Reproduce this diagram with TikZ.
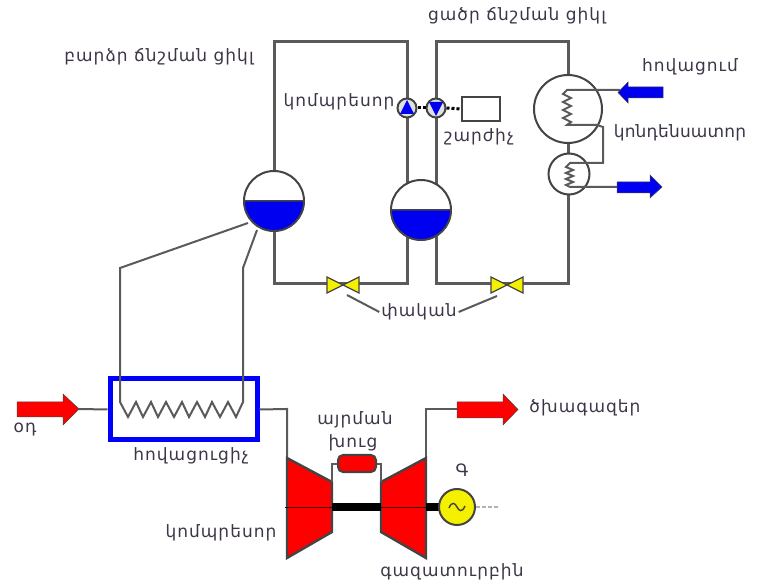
\documentclass[tikz,border=0pt]{standalone}
\usepackage{fontspec}
\usetikzlibrary{calc}
\newfontfamily\arm[LetterSpace=6]{DejaVu Sans}
\newfontfamily\armtight[LetterSpace=1]{DejaVu Sans}
\definecolor{pipe}{HTML}{5A5A5A}
\definecolor{edge}{HTML}{444444}
\definecolor{ink}{HTML}{3E3648}
\definecolor{hotred}{HTML}{FF0000}
\definecolor{water}{HTML}{0000F0}
\definecolor{valvey}{HTML}{F4F000}
\tikzset{
  x=1pt,y=-1pt,
  lab/.style={font=\arm\fontsize{17}{20}\selectfont,text=ink,inner sep=0pt},
  pipeline/.style={draw=pipe,line width=3pt,line join=miter},
  thinline/.style={draw=pipe,line width=2pt,line join=miter},
  ball/.style={circle,draw=edge,line width=2pt,fill=white,inner sep=0pt,minimum size=#1},
  flowred/.style={fill=hotred,draw=edge,line width=.5pt,line join=miter},
  flowblue/.style={fill=water,draw=edge,line width=.5pt,line join=miter},
  valvepart/.style={fill=valvey,draw=edge,line width=1.2pt,line join=miter},
  machine/.style={fill=hotred,draw=edge,line width=2.4pt,line join=miter},
}
\begin{document}
\begin{tikzpicture}
\useasboundingbox (0,0) rectangle (761,585);
% corner coordinates
\coordinate (hpTL) at (274,42);
\coordinate (hpTR) at (407,42);
\coordinate (hpBL) at (274,284);
\coordinate (hpBR) at (407,284);
\coordinate (lpTL) at (436,42);
\coordinate (lpTR) at (568,42);
\coordinate (lpBL) at (436,284);
\coordinate (lpBR) at (568,284);
% pipes (below the equipment)
\draw[pipeline] (274,185) -- (hpTL) -- (hpTR) -- (407,200);
\draw[pipeline] (436,200) -- (lpTL) -- (lpTR) -- (568,85);
\draw[pipeline] (274,215) -- (hpBL) -- (hpBR) -- (407,225);
\draw[pipeline] (436,225) -- (lpBL) -- (lpBR) -- (568,185);
\draw[pipeline] (568,135) -- (568,160);
% drums
\node[ball=60pt] (hp) at (274,201) {};
\node[ball=60pt] (lp) at (421,210) {};
\fill[water,draw=edge,line width=1.5pt] (244.2,201) arc[start angle=180,end angle=0,radius=29.8] -- cycle;
\fill[water,draw=edge,line width=1.5pt] (391.2,210) arc[start angle=180,end angle=0,radius=29.8] -- cycle;
% condenser
\node[ball=68pt] (cb) at (568,109) {};
\node[ball=41pt] (cs) at (569,174) {};
\coordinate (inT) at (620,90);
\coordinate (outT) at (617,187);
\draw[thinline] (inT) -- (567,90) -- (563,94) -- (571,98) -- (563,102) -- (571,106) -- (563,110) -- (571,114) -- (563,118) -- (571,122) -- (567,125) -- (597,125) -- (603,127) -- (603,163) -- (570,163) -- (566,167) -- (573,170) -- (566,173) -- (573,176) -- (566,179) -- (573,182) -- (566,185) -- (570,187) -- (outT);
\draw[flowblue] (663,87) -- (628,87) -- (628,82) -- (618,92.5) -- (628,103) -- (628,98) -- (663,98) -- cycle;
\draw[flowblue] (617,182) -- (650,182) -- (650,175) -- (662,187) -- (650,198) -- (650,193) -- (617,193) -- cycle;
% compressors and motor
\node[ball=19pt,fill=black!12] (pu1) at (407,108) {};
\node[ball=19pt,fill=black!12] (pu2) at (436,108) {};
\fill[water] (407,100) -- (414,114) -- (400,114) -- cycle;
\fill[water] (436,116) -- (443,102) -- (429,102) -- cycle;
\node[draw=edge,line width=2pt,fill=white,minimum width=38pt,minimum height=24pt,inner sep=0pt] (motor) at (481,109) {};
\draw[black,line width=3pt,dash pattern=on 3pt off 2pt] (pu1.east) -- (pu2.west);
\draw[black,line width=3pt,dash pattern=on 3pt off 2pt] (pu2.east) -- (motor.west);
% valves
\coordinate (v1) at (343,285);
\coordinate (v2) at (507,285);
\foreach \v in {v1,v2}{
  \draw[valvepart] ($(\v)+(-16,-8)$) -- (\v) -- ($(\v)+(-16,8)$) -- cycle;
  \draw[valvepart] ($(\v)+(16,-8)$) -- (\v) -- ($(\v)+(16,8)$) -- cycle;
}
% heater
\node[draw=blue,line width=5pt,fill=white,minimum width=147pt,minimum height=61pt,inner sep=0pt] (heater) at (183.5,409.5) {};
\coordinate (hA) at (120,268);
\coordinate (hB) at (243,268);
\draw[thinline] (248,223) -- (hA) -- (120,402)
  -- (128,417) -- (136,402) -- (143,417) -- (151,402) -- (158,417) -- (166,402) -- (174,417) -- (182,402)
  -- (189,417) -- (197,402) -- (205,417) -- (212,402) -- (220,417) -- (228,402) -- (236,417) -- (243,402)
  -- (hB) -- (257,230);
% left arrow
\draw[thinline] (79,409) -- (heater.west);
\draw[flowred] (17,402) -- (63,402) -- (63,394) -- (79,409) -- (63,425) -- (63,417) -- (17,417) -- cycle;
% turbine set
\draw[thinline] (heater.east) -- (287,409) -- (287,458);
\draw[thinline] (426,458) -- (426,409) -- (457,409);
\draw[flowred] (457,402) -- (503,402) -- (503,394) -- (518,409.5) -- (503,425) -- (503,418) -- (457,418) -- cycle;
\draw[machine] (287,458) -- (332,482) -- (332,532) -- (287,558) -- cycle;
\draw[machine] (426,458) -- (381,482) -- (381,532) -- (426,558) -- cycle;
\draw[black!70!red,line width=.6pt] (285,507) -- (332,507) (381,507) -- (426,507);
\draw[black,line width=8pt] (332,507) -- (381,507) (426,507) -- (440,507);
\node[rounded corners=5pt,draw=edge,line width=2pt,fill=hotred,minimum width=38pt,minimum height=17pt,inner sep=0pt] (burner) at (357,463.5) {};
\draw[thinline] (332,482) -- (332,463.5) -- (burner.west);
\draw[thinline] (burner.east) -- (381,463.5) -- (381,482);
\node[ball=36pt,fill=valvey] (gen) at (457,507) {};
\draw[edge,line width=1.4pt] (449,508) .. controls (452,501) and (455,503) .. (457,507) .. controls (459,511) and (462,513) .. (465,506);
\draw[black!30,line width=1.2pt,dash pattern=on 4pt off 2pt] (gen.east) -- (498,507);
% labels
\node[lab] (t1) at (517,16) {ցածր ճնշման ցիկլ};
\node[lab] (t2) at (159,57) {բարձր ճնշման ցիկլ};
\node[lab] (t3) at (339,102) {կոմպրեսոր};
\node[lab] (t4) at (479,137) {շարժիչ};
\node[lab] (t5) at (690,67) {հովացում};
\node[lab,font=\armtight\fontsize{17}{20}\selectfont] (t6) at (680,133) {կոնդենսատոր};
\node[lab,outer sep=2pt] (t7) at (419,312) {փական};
\node[lab] (t8) at (25,430) {օդ};
\node[lab] (t9) at (191,456) {հովացուցիչ};
\node[lab] (t10) at (355,420) {այրման};
\node[lab] (t11) at (353,443) {խուց};
\node[lab] (t12) at (585,408) {ծխագազեր};
\node[lab] (t13) at (462,470) {Գ};
\node[lab] (t14) at (452,572) {գազատուրբին};
\node[lab] (t15) at (221,533) {կոմպրեսոր};
\draw[thinline] ($(v1)+(4,10)$) -- (t7.west);
\draw[thinline] ($(v2)+(-10,11)$) -- (t7.east);
\end{tikzpicture}
\end{document}
